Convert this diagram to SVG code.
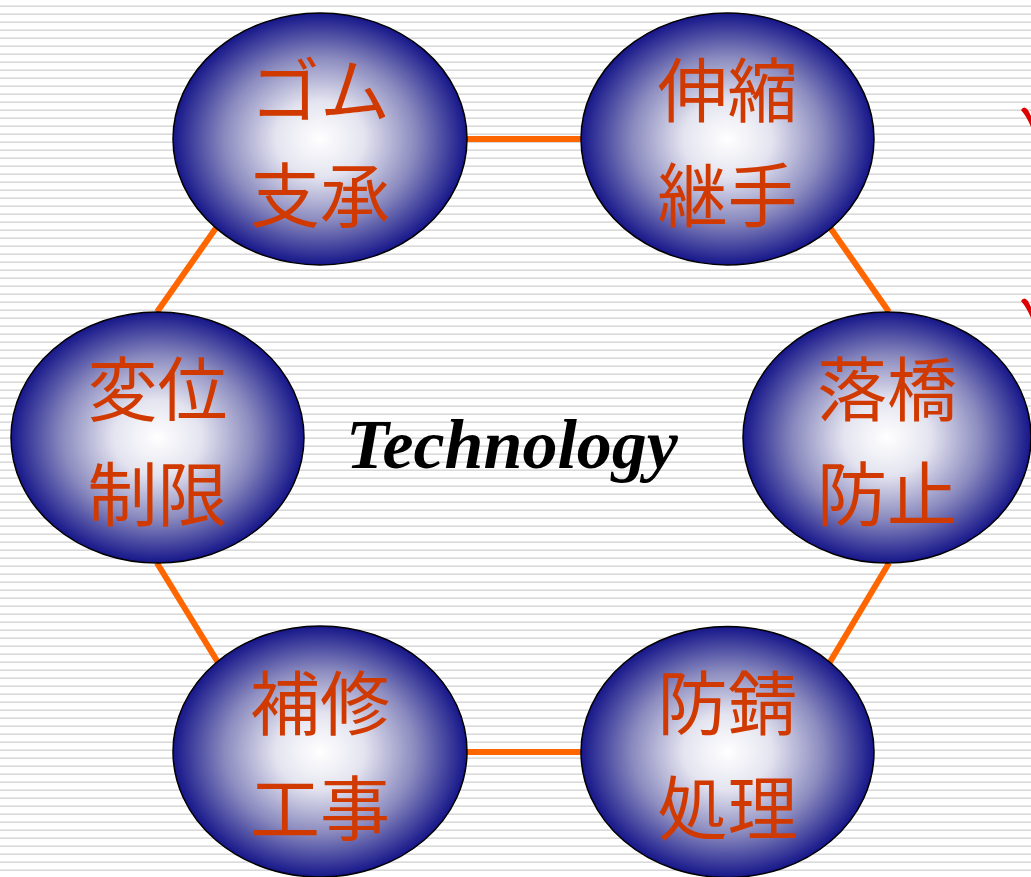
<svg xmlns="http://www.w3.org/2000/svg" width="1031" height="877" viewBox="0 0 1031 877">
<defs>
<pattern id="stripes" width="8" height="8" patternUnits="userSpaceOnUse">
<rect x="0" y="0" width="8" height="8" fill="#ffffff"/>
<rect x="0" y="5" width="8" height="1" fill="#e8e8e8"/>
<rect x="0" y="6" width="8" height="1" fill="#dadada"/>
</pattern>
<radialGradient id="ball" cx="0.5" cy="0.5" r="0.5">
<stop offset="0" stop-color="#ffffff"/>
<stop offset="0.3" stop-color="#e4e4f0"/>
<stop offset="0.65" stop-color="#8a8abf"/>
<stop offset="1" stop-color="#16168a"/>
</radialGradient>
<style>
.node ellipse { fill: url(#ball); stroke: #000000; stroke-width: 1.5; }
.node text { font-family: "Noto Sans CJK JP", "Noto Sans CJK SC", sans-serif; font-size: 70px; fill: #D03A00; text-anchor: middle; }
#connectors line { stroke: #FF6600; stroke-width: 6; }
.tick { fill: #E00000; }
</style>
</defs>
<rect x="0" y="0" width="1031" height="877" fill="url(#stripes)"/>
<g id="connectors">
<line x1="420" y1="139" x2="630" y2="139"/>
<line x1="230" y1="208" x2="157" y2="312"/>
<line x1="815" y1="206" x2="889" y2="312"/>
<line x1="157" y1="563" x2="230" y2="682"/>
<line x1="889" y1="563" x2="818" y2="682"/>
<line x1="420" y1="752" x2="630" y2="752"/>
</g>
<g id="ticks">
<path class="tick" d="M1021,110 Q1024,105 1028,110 L1031,116 L1031,127 Q1027,117 1021,110 Z"/>
<path class="tick" d="M1021,301 Q1024,296 1028,301 L1031,307 L1031,318 Q1027,308 1021,301 Z"/>
</g>
<g id="node-gomu" class="node">
<ellipse cx="320" cy="139" rx="147" ry="126"/>
<text x="320" y="117">ゴム</text>
<text x="320" y="222">支承</text>
</g>
<g id="node-shinshuku" class="node">
<ellipse cx="727.5" cy="139" rx="146.5" ry="126"/>
<text x="727.5" y="117">伸縮</text>
<text x="727.5" y="222">継手</text>
</g>
<g id="node-henni" class="node">
<ellipse cx="157.5" cy="437.5" rx="146.5" ry="125.5"/>
<text x="157.5" y="416">変位</text>
<text x="157.5" y="521">制限</text>
</g>
<g id="node-rakkyo" class="node">
<ellipse cx="887" cy="437.5" rx="144" ry="125.5"/>
<text x="887" y="416">落橋</text>
<text x="887" y="521">防止</text>
</g>
<g id="node-hoshu" class="node">
<ellipse cx="320" cy="751.5" rx="147" ry="125.5"/>
<text x="320" y="730">補修</text>
<text x="320" y="835">工事</text>
</g>
<g id="node-bosei" class="node">
<ellipse cx="727.5" cy="752" rx="146.5" ry="125.5"/>
<text x="727.5" y="730">防錆</text>
<text x="727.5" y="835">処理</text>
</g>
<text id="center-label" x="512" y="468" font-family="Liberation Serif, serif" font-size="70" font-weight="bold" font-style="italic" text-anchor="middle" fill="#000000">Technology</text>
</svg>
